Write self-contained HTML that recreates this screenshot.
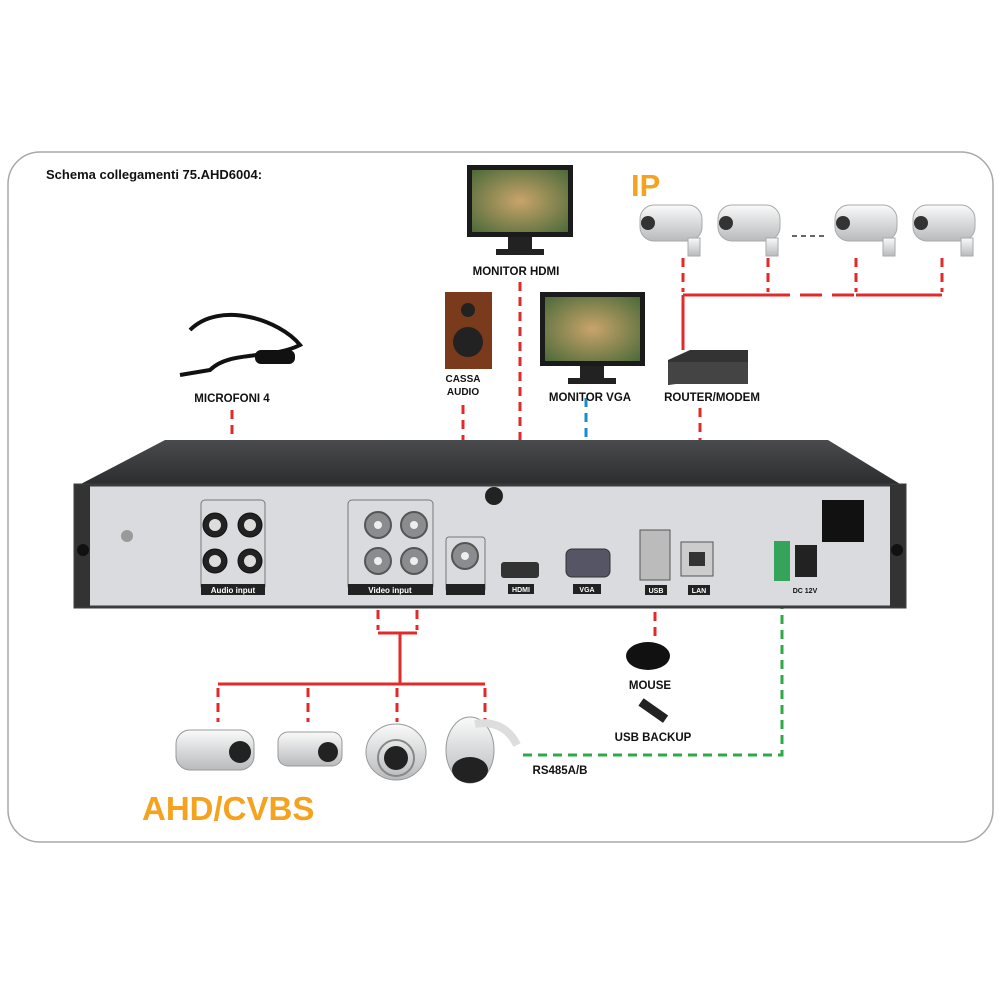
<!DOCTYPE html>
<html><head><meta charset="utf-8"><style>
html,body{margin:0;padding:0;background:#fff}
svg{display:block}
text{font-family:"Liberation Sans",Arial,sans-serif;font-weight:bold}
</style></head><body>
<svg width="1000" height="1000" viewBox="0 0 1000 1000" xmlns="http://www.w3.org/2000/svg">
<defs>
<linearGradient id="top" x1="0" y1="0" x2="0" y2="1"><stop offset="0" stop-color="#4a4b4d"/><stop offset="1" stop-color="#2a2b2d"/></linearGradient>
<linearGradient id="cam" x1="0" y1="0" x2="0" y2="1"><stop offset="0" stop-color="#fafafa"/><stop offset="1" stop-color="#b8babc"/></linearGradient>
<radialGradient id="scr" cx="0.5" cy="0.5" r="0.7"><stop offset="0" stop-color="#c9a46a"/><stop offset="1" stop-color="#4c6a3a"/></radialGradient>
</defs>
<rect x="8" y="152" width="985" height="690" rx="32" fill="#fff" stroke="#a8a8a8" stroke-width="1.5"/>
<text x="46" y="179" font-size="13" fill="#111">Schema collegamenti 75.AHD6004:</text>
<text x="631" y="196" font-size="31" fill="#f5a21f">IP</text>
<text x="142" y="820" font-size="33" fill="#f5a21f">AHD/CVBS</text>

<!-- connectors -->
<g fill="none" stroke="#e32a2a" stroke-width="3" stroke-dasharray="9 6">
<path d="M232 410V475"/><path d="M463 405V540"/><path d="M520 282V560"/><path d="M700 408V540"/>
<path d="M683 258V292M768 258V292M856 258V292M942 258V292"/>
<path d="M655 597V640"/>
<path d="M378 580V630M417 580V630"/>
<path d="M218 688V722M308 688V722M397 688V722M485 688V722"/>
<path d="M207 477V560M258 477V560"/>
</g>
<g fill="none" stroke="#e32a2a" stroke-width="3">
<path d="M207 477H258"/>
<path d="M683 295H768M856 295H942M683 295V350"/>
<path d="M378 633H417M400 633V684M218 684H485"/>
</g>
<path d="M768 295H856" stroke="#e32a2a" stroke-width="3" stroke-dasharray="22 10"/>
<path d="M792 236H826" stroke="#333" stroke-width="1.5" stroke-dasharray="5 4"/>
<path d="M586 398V548" stroke="#1a8bd0" stroke-width="3" stroke-dasharray="9 6"/>
<g fill="none" stroke="#2fa84a" stroke-width="3">
<path d="M773 590V600H791V590"/>
<path d="M782 600V755H520" stroke-dasharray="9 6"/>
</g>

<!-- DVR -->
<polygon points="75,487 165,440 828,440 905,487" fill="url(#top)"/>
<rect x="75" y="485" width="830" height="122" fill="#d9dbde"/>
<rect x="75" y="485" width="830" height="122" fill="none" stroke="#3a3b3d" stroke-width="3"/>
<rect x="75" y="485" width="15" height="122" fill="#333"/>
<rect x="890" y="485" width="15" height="122" fill="#333"/>
<circle cx="83" cy="550" r="6" fill="#111"/><circle cx="897" cy="550" r="6" fill="#111"/>
<circle cx="494" cy="496" r="9" fill="#222"/>
<circle cx="127" cy="536" r="6" fill="#9a9a9a"/>
<!-- audio input -->
<rect x="201" y="500" width="64" height="90" rx="4" fill="none" stroke="#777"/>
<rect x="201" y="584" width="64" height="11" fill="#222"/>
<text x="233" y="593" font-size="8" fill="#fff" text-anchor="middle" font-weight="normal">Audio input</text>
<g fill="#222" stroke="#111"><circle cx="215" cy="525" r="12"/><circle cx="250" cy="525" r="12"/><circle cx="215" cy="561" r="12"/><circle cx="250" cy="561" r="12"/></g>
<g fill="#ddd"><circle cx="215" cy="525" r="6"/><circle cx="250" cy="525" r="6"/><circle cx="215" cy="561" r="6"/><circle cx="250" cy="561" r="6"/></g>
<!-- video input -->
<rect x="348" y="500" width="85" height="90" rx="4" fill="none" stroke="#777"/>
<rect x="348" y="584" width="85" height="11" fill="#222"/>
<text x="390" y="593" font-size="8" fill="#fff" text-anchor="middle" font-weight="normal">Video input</text>
<g fill="#8a8c8f" stroke="#555" stroke-width="2"><circle cx="378" cy="525" r="13"/><circle cx="414" cy="525" r="13"/><circle cx="378" cy="561" r="13"/><circle cx="414" cy="561" r="13"/><circle cx="465" cy="556" r="13"/></g>
<g fill="#eee"><circle cx="378" cy="525" r="4"/><circle cx="414" cy="525" r="4"/><circle cx="378" cy="561" r="4"/><circle cx="414" cy="561" r="4"/><circle cx="465" cy="556" r="4"/></g>
<rect x="446" y="537" width="39" height="55" rx="3" fill="none" stroke="#777"/>
<rect x="446" y="584" width="39" height="11" fill="#222"/>
<!-- HDMI VGA USB LAN -->
<rect x="501" y="562" width="38" height="16" rx="3" fill="#333"/>
<rect x="508" y="584" width="26" height="10" fill="#222"/><text x="521" y="592" font-size="7" fill="#fff" text-anchor="middle">HDMI</text>
<rect x="566" y="549" width="44" height="28" rx="6" fill="#556" stroke="#333"/>
<rect x="573" y="584" width="28" height="10" fill="#222"/><text x="587" y="592" font-size="7" fill="#fff" text-anchor="middle">VGA</text>
<rect x="640" y="530" width="30" height="50" fill="#bbb" stroke="#555"/>
<rect x="645" y="585" width="22" height="10" fill="#222"/><text x="656" y="593" font-size="7" fill="#fff" text-anchor="middle">USB</text>
<rect x="681" y="542" width="32" height="34" fill="#ccc" stroke="#555"/><rect x="689" y="552" width="16" height="14" fill="#333"/>
<rect x="688" y="585" width="22" height="10" fill="#222"/><text x="699" y="593" font-size="7" fill="#fff" text-anchor="middle">LAN</text>
<rect x="774" y="541" width="16" height="40" fill="#35a35a"/>
<rect x="795" y="545" width="22" height="32" fill="#222"/>
<text x="805" y="593" font-size="7" fill="#111" text-anchor="middle">DC 12V</text>
<rect x="822" y="500" width="42" height="42" fill="#111"/>
<!-- monitors -->
<rect x="467" y="165" width="106" height="72" fill="#1b1b1b"/><rect x="472" y="170" width="96" height="62" fill="url(#scr)"/>
<rect x="508" y="237" width="24" height="12" fill="#222"/><rect x="496" y="249" width="48" height="6" fill="#222"/>
<rect x="540" y="292" width="105" height="74" fill="#1b1b1b"/><rect x="545" y="297" width="95" height="64" fill="url(#scr)"/>
<rect x="580" y="366" width="24" height="12" fill="#222"/><rect x="568" y="378" width="48" height="6" fill="#222"/>
<!-- speaker -->
<rect x="445" y="292" width="47" height="77" fill="#7a3a1c"/>
<circle cx="468" cy="310" r="7" fill="#222"/><circle cx="468" cy="342" r="15" fill="#222"/>
<!-- router -->
<polygon points="668,360 690,350 748,350 748,375 668,385" fill="#333"/>
<rect x="668" y="362" width="80" height="22" fill="#444"/>
<!-- mic cable -->
<path d="M190 330 C220 300 280 320 300 345 C270 360 230 350 210 370 L180 375" fill="none" stroke="#111" stroke-width="4"/>
<rect x="255" y="350" width="40" height="14" rx="6" fill="#111"/>
<!-- IP cameras -->
<g fill="url(#cam)" stroke="#aaa">
<rect x="640" y="205" width="62" height="36" rx="14"/><rect x="718" y="205" width="62" height="36" rx="14"/>
<rect x="835" y="205" width="62" height="36" rx="14"/><rect x="913" y="205" width="62" height="36" rx="14"/>
<rect x="688" y="238" width="12" height="18"/><rect x="766" y="238" width="12" height="18"/>
<rect x="883" y="238" width="12" height="18"/><rect x="961" y="238" width="12" height="18"/>
</g>
<g fill="#333"><circle cx="648" cy="223" r="7"/><circle cx="726" cy="223" r="7"/><circle cx="843" cy="223" r="7"/><circle cx="921" cy="223" r="7"/></g>
<!-- bottom cameras -->
<g fill="url(#cam)" stroke="#999">
<rect x="176" y="730" width="78" height="40" rx="14"/>
<rect x="278" y="732" width="64" height="34" rx="10"/>
<ellipse cx="396" cy="752" rx="30" ry="28"/>
<ellipse cx="470" cy="750" rx="24" ry="33"/>
</g>
<g fill="#222"><circle cx="240" cy="752" r="11"/><circle cx="328" cy="752" r="10"/><circle cx="396" cy="758" r="12"/><ellipse cx="470" cy="770" rx="18" ry="13"/></g>
<circle cx="396" cy="758" r="18" fill="none" stroke="#888" stroke-width="2"/>
<path d="M475 724 C495 720 510 730 517 745" fill="none" stroke="#ddd" stroke-width="8"/>
<!-- mouse & usb -->
<ellipse cx="648" cy="656" rx="22" ry="14" fill="#111"/>
<rect x="638" y="706" width="30" height="9" fill="#222" transform="rotate(35 653 711)"/>
<!-- labels -->
<g font-size="11.5" fill="#111" text-anchor="middle">
<text x="232" y="402">MICROFONI 4</text>
<text x="463" y="382" font-size="10">CASSA</text><text x="463" y="395" font-size="10">AUDIO</text>
<text x="516" y="275">MONITOR HDMI</text>
<text x="590" y="401">MONITOR VGA</text>
<text x="712" y="401">ROUTER/MODEM</text>
<text x="650" y="689">MOUSE</text>
<text x="653" y="741">USB BACKUP</text>
<text x="560" y="774">RS485A/B</text>
</g>
</svg>
</body></html>
